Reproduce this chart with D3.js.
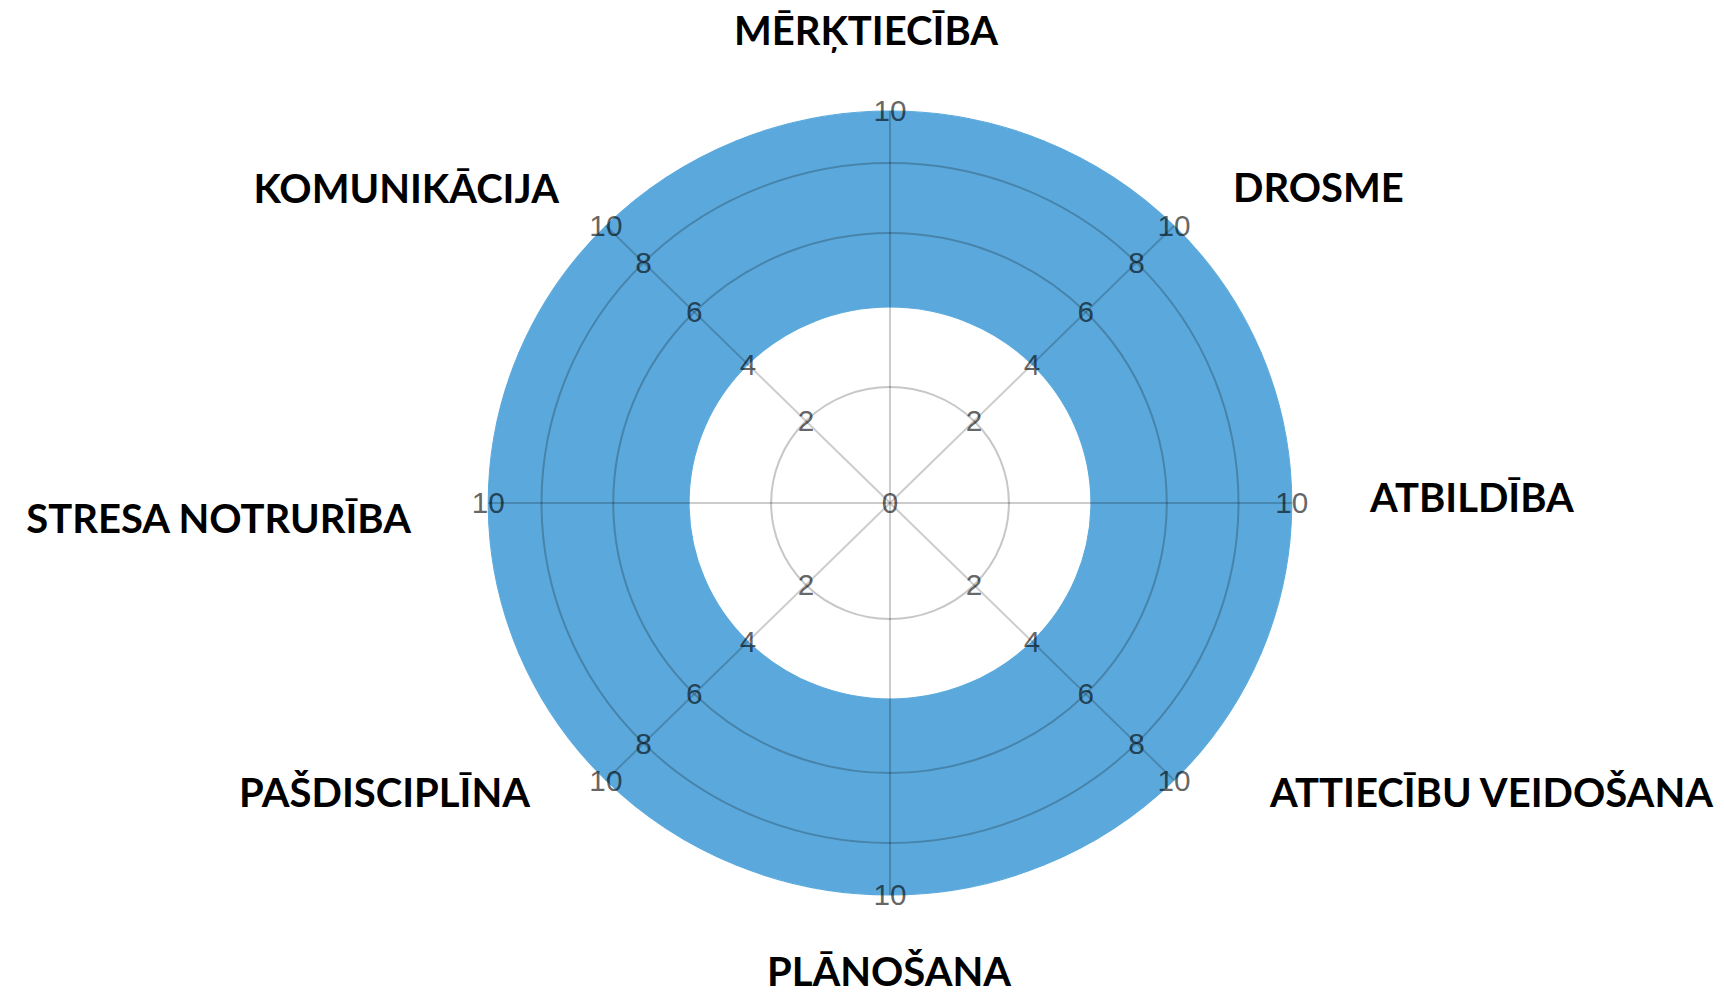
<!DOCTYPE html>
<html>
<head>
<meta charset="utf-8">
<script src="https://cdn.jsdelivr.net/npm/d3@7"></script>
<style>
  body { margin: 0; background: #fff; }
  svg { display: block; }
</style>
</head>
<body>
<div id="chart"></div>
<script>
// data
const categories = ["MĒRĶTIECĪBA", "DROSME", "ATBILDĪBA", "ATTIECĪBU VEIDOŠANA",
                    "PLĀNOŠANA", "PAŠDISCIPLĪNA", "STRESA NOTRURĪBA", "KOMUNIKĀCIJA"];
const outerValues = [10, 10, 10, 10, 10, 10, 10, 10];
const innerValues = [4, 4, 4, 4, 4, 4, 4, 4];
const ringTicks = [2, 4, 6, 8, 10];
const tickLabels = ["2", "4", "6", "8", "10"];
const gridRings = [2, 6, 8];

// label placement around the wheel: [dx, dy, anchor] from the centre
const labelLayout = [
    [-24, -458, "middle"],
    [343, -301, "start"],
    [480, 9, "start"],
    [823, 304, "end"],
    [-1, 483, "middle"],
    [-360, 304, "end"],
    [-479, 30, "end"],
    [-331, -300, "end"]
];

const width = 1724;
const height = 999;
const cx = 890;
const cy = 503;

// the radial axis in the picture is not evenly spaced
const r = d3.scaleLinear()
    .domain([0, 2, 4, 6, 8, 10])
    .range([0, 116, 196, 270, 340, 392]);

const n = categories.length;
const step = 2 * Math.PI / n;

const svg = d3.select("#chart")
    .append("svg")
    .attr("width", width)
    .attr("height", height);

const g = svg.append("g")
    .attr("transform", `translate(${cx},${cy}) scale(1.025,1)`);

const arc = d3.arc()
    .innerRadius((d, i) => r(innerValues[i]))
    .outerRadius((d, i) => r(d))
    .startAngle((d, i) => i * step - step / 2)
    .endAngle((d, i) => i * step + step / 2);

g.selectAll("path.seg")
    .data(outerValues)
    .join("path")
    .attr("class", "seg")
    .attr("d", (d, i) => arc(d, i))
    .attr("fill", "#5ba9dc")
    .attr("stroke", "#5ba9dc")
    .attr("stroke-width", 1);

// grid circles
g.selectAll("circle.grid")
    .data(gridRings)
    .join("circle")
    .attr("class", "grid")
    .attr("r", d => r(d))
    .attr("fill", "none")
    .attr("stroke", "rgba(0,0,0,0.22)")
    .attr("stroke-width", 2);

// spokes
g.selectAll("line.spoke")
    .data(categories)
    .join("line")
    .attr("class", "spoke")
    .attr("x1", 0)
    .attr("y1", 0)
    .attr("x2", (d, i) => r(10) * Math.sin(i * step))
    .attr("y2", (d, i) => -r(10) * Math.cos(i * step))
    .attr("stroke", "rgba(0,0,0,0.2)")
    .attr("stroke-width", 2);

// tick labels: all ticks on the diagonals, only the outer one on the main axes
const tickData = [];
categories.forEach((c, i) => {
    ringTicks.forEach((t, j) => {
        if (i % 2 === 1 || t === 10) {
            tickData.push({ a: i * step, v: t, label: tickLabels[j] });
        }
    });
});
tickData.push({ a: 0, v: 0, label: "0" });

g.selectAll("text.tick")
    .data(tickData)
    .join("text")
    .attr("class", "tick")
    .attr("x", d => r(d.v) * Math.sin(d.a))
    .attr("y", d => -r(d.v) * Math.cos(d.a))
    .attr("text-anchor", "middle")
    .attr("dominant-baseline", "central")
    .attr("font-family", "'Liberation Sans', Arial, sans-serif")
    .attr("font-size", 29)
    .attr("fill", "rgba(0,0,0,0.62)")
    .text(d => d.label);

// category names
svg.selectAll("text.cat")
    .data(categories)
    .join("text")
    .attr("class", "cat")
    .attr("x", (d, i) => cx + labelLayout[i][0])
    .attr("y", (d, i) => cy + labelLayout[i][1])
    .attr("text-anchor", (d, i) => labelLayout[i][2])
    .attr("font-family", "Lato, 'Open Sans', sans-serif")
    .attr("font-weight", 700)
    .attr("font-size", 40)
    .attr("fill", "#000")
    .text(d => d);
</script>
</body>
</html>
